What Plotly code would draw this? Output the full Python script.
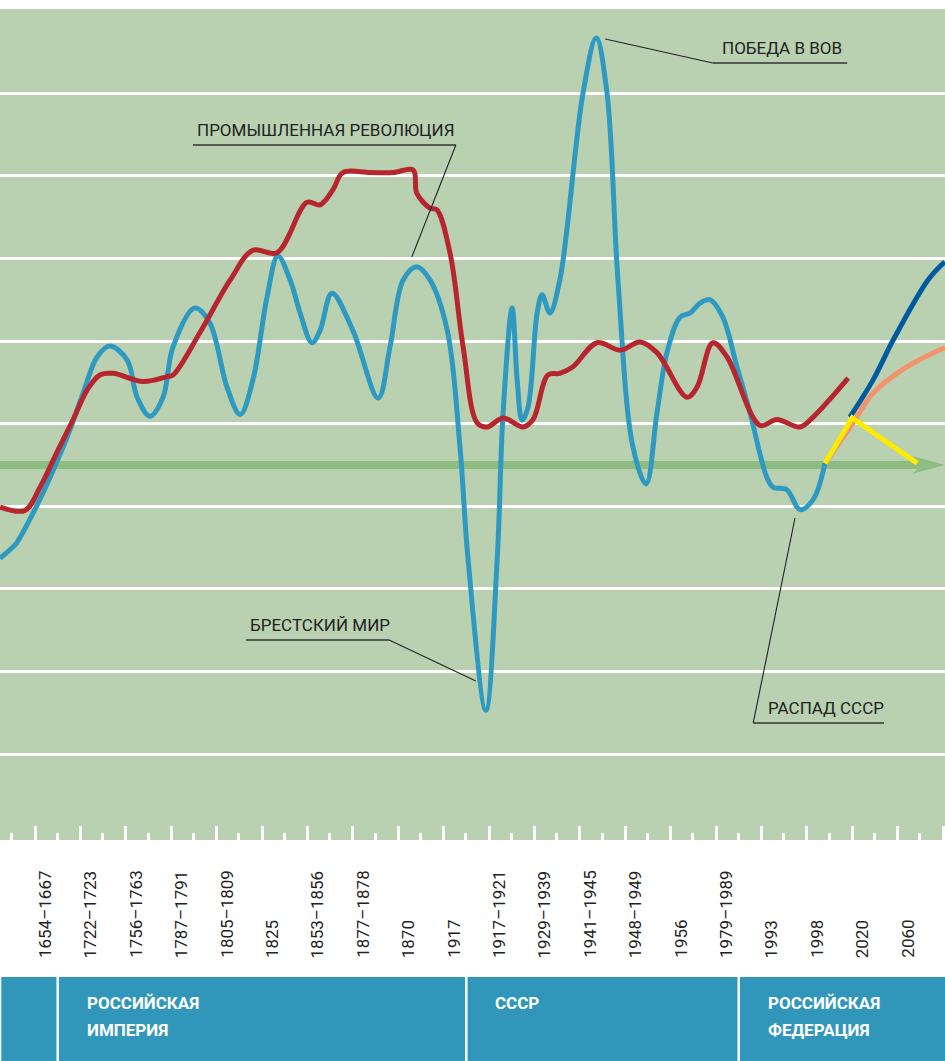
import plotly.graph_objects as go

# ---------------- data ----------------
tick_labels = ["1654–1667", "1722–1723", "1756–1763", "1787–1791", "1805–1809",
               "1825", "1853–1856", "1877–1878", "1870", "1917",
               "1917–1921", "1929–1939", "1941–1945", "1948–1949", "1956",
               "1979–1989", "1993", "1998", "2020", "2060"]
tick_pos = list(range(len(tick_labels)))

era_names = [[], ["РОССИЙСКАЯ", "ИМПЕРИЯ"], ["СССР"], ["РОССИЙСКАЯ", "ФЕДЕРАЦИЯ"]]
era_start = [-0.99, 0.28, 9.28, 15.28]

# light-blue index
blue_x = [-0.99, -0.70, -0.62, -0.26, 0.11, 0.49, 0.84, 1.15, 1.43, 1.81, 2.03, 2.31,
          2.60, 2.82, 3.30, 3.63, 4.01, 4.30, 4.58, 4.89, 5.13, 5.40, 5.62, 5.88,
          6.06, 6.32, 6.78, 7.34, 7.60, 7.89, 8.19, 8.48, 8.86, 9.14, 9.32, 9.71,
          9.96, 10.09, 10.29, 10.40, 10.51, 10.64, 10.84, 10.95, 11.12, 11.34, 11.85,
          12.14, 12.38, 12.62, 12.95, 13.24, 13.48, 13.70, 13.99, 14.21, 14.43, 14.65,
          14.93, 15.24, 15.53, 15.90, 16.04, 16.34, 16.63, 16.92, 17.18]
blue_y = [-11.3, -9.9, -9.4, -5.8, -1.5, 3.4, 8.7, 13.1, 14.4, 12.7, 8.2, 5.9,
          8.2, 14.3, 19.0, 17.2, 9.4, 6.1, 10.3, 20.3, 25.3, 22.4, 18.4, 14.8,
          16.3, 20.8, 16.3, 8.1, 14.3, 22.4, 24.0, 22.4, 16.3, 2.2, -11.5, -29.7,
          -11.5, 6.3, 19.0, 10.3, 5.4, 7.0, 18.4, 20.6, 18.4, 22.4, 45.0,
          51.7, 45.0, 22.4, 2.2, -2.3, 6.3, 13.6, 17.9, 18.4, 19.6, 20.0,
          17.9, 11.9, 6.3, -1.5, -2.7, -3.0, -5.4, -4.2, 0.2]

# red index
red_x = [-0.99, -0.44, -0.11, 0.26, 0.62, 0.93, 1.21, 1.50, 2.16, 2.69, 2.82, 3.41,
         4.08, 4.58, 5.11, 5.77, 6.06, 6.34, 6.56, 7.16, 7.67, 8.11, 8.19, 8.48,
         8.63, 8.92, 9.21, 9.52, 9.74, 10.09, 10.53, 10.75, 11.08, 11.34, 11.63,
         12.16, 12.67, 13.11, 13.48, 14.14, 14.36, 14.71, 15.02, 15.75, 16.12,
         16.63, 16.92, 17.69]
red_y = [-5.1, -5.5, -2.7, 1.5, 5.5, 9.1, 10.9, 11.1, 10.1, 10.7, 10.9, 16.0,
         22.4, 26.0, 25.7, 31.8, 31.5, 33.3, 35.4, 35.4, 35.4, 35.7, 32.9, 31.1,
         30.9, 25.7, 14.3, 5.1, 4.6, 5.7, 4.6, 5.5, 10.9, 11.1, 11.9,
         14.8, 13.9, 14.9, 13.6, 8.2, 9.4, 14.8, 13.1, 4.8, 5.5,
         4.6, 5.8, 10.5]

# forecasts
dark_x = [17.73, 18.24, 18.68, 19.45, 19.82]
dark_y = [5.8, 10.3, 15.1, 22.4, 24.6]
orange_x = [17.18, 17.80, 18.24, 18.99, 19.82]
orange_y = [0.2, 5.1, 8.7, 11.9, 14.2]
yellow_x = [17.18, 17.78, 19.21]
yellow_y = [0.2, 5.7, 0.2]

baseline = 0

# ---------------- styles ----------------
X_MIN, X_MAX = -0.991, 19.824
Y_MIN, Y_MAX = -45.4, 55.2
BG = "#b9d1b0"
FONT = "Roboto, 'Liberation Sans', sans-serif"

fig = go.Figure()

# baseline arrow shaft
fig.add_trace(go.Scatter(x=[X_MIN, 19.32], y=[baseline, baseline], mode="lines",
                         line=dict(color="#8dbd80", width=8), hoverinfo="skip"))
fig.add_shape(type="path", xref="x", yref="y", layer="below",
              path=f"M 19.824,{baseline} L 19.10,{baseline+1.1} L 19.32,{baseline} L 19.10,{baseline-1.1} Z",
              fillcolor="#8dbd80", line=dict(width=0))

fig.add_trace(go.Scatter(x=blue_x, y=blue_y, mode="lines",
                         line=dict(color="#2f9ac1", width=5, shape="spline", smoothing=1.0)))
fig.add_trace(go.Scatter(x=red_x, y=red_y, mode="lines",
                         line=dict(color="#b7252f", width=5, shape="spline", smoothing=1.0)))
fig.add_trace(go.Scatter(x=orange_x, y=orange_y, mode="lines",
                         line=dict(color="#f4926b", width=5, shape="spline", smoothing=1.0)))
fig.add_trace(go.Scatter(x=dark_x, y=dark_y, mode="lines",
                         line=dict(color="#005a9e", width=5, shape="spline", smoothing=1.0)))
fig.add_trace(go.Scatter(x=yellow_x, y=yellow_y, mode="lines",
                         line=dict(color="#ffeb00", width=5)))

# callouts: (text, text_x, text_y, underline x0, x1, y, leader end x, y)
callouts = [
    ("ПРОМЫШЛЕННАЯ РЕВОЛЮЦИЯ", 3.30, 40.6, 3.26, 9.05, 38.74, 8.08, 25.18, "right"),
    ("ПОБЕДА В ВОВ", 14.87, 50.5, 14.71, 17.67, 48.67, 12.34, 51.57, "left"),
    ("БРЕСТСКИЙ МИР", 4.47, -19.4, 4.43, 7.58, -21.19, 9.49, -26.15, "right"),
    ("РАСПАД СССР", 15.88, -29.4, 15.60, 18.48, -31.23, 16.52, -6.42, "left"),
]
for txt, tx, ty, ux0, ux1, uy, lx, ly, side in callouts:
    fig.add_annotation(x=tx, y=ty, xref="x", yref="y", text=txt, showarrow=False,
                       xanchor="left", yanchor="middle",
                       font=dict(family=FONT, size=17, color="#222222"))
    fig.add_shape(type="line", xref="x", yref="y", x0=ux0, x1=ux1, y0=uy, y1=uy,
                  line=dict(color="#333333", width=1.6))
    sx = ux1 if side == "right" else ux0
    fig.add_shape(type="line", xref="x", yref="y", x0=sx, x1=lx, y0=uy, y1=ly,
                  line=dict(color="#222222", width=1.1))

# tick labels (rotated, bottom aligned)
for p, lab in zip(tick_pos, tick_labels):
    fig.add_annotation(x=p, y=-0.1445, xref="x", yref="paper", text=lab, showarrow=False,
                       textangle=-90, xanchor="center", yanchor="bottom",
                       font=dict(family=FONT, size=17, color="#222222"))

# era band
fig.add_shape(type="rect", xref="paper", yref="paper", x0=0, x1=1, y0=-0.1649, y1=-0.27,
              fillcolor="#3097bb", line=dict(width=0))
for start, lines in zip(era_start, era_names):
    if start > X_MIN:
        fig.add_shape(type="line", xref="x", yref="paper", x0=start, x1=start,
                      y0=-0.1649, y1=-0.27, line=dict(color="white", width=2.5))
    for k, ln in enumerate(lines):
        fig.add_annotation(x=start, y=-0.1961 - 0.0325 * k, xref="x", yref="paper",
                           text=f"<b>{ln}</b>", showarrow=False, xanchor="left",
                           yanchor="middle", xshift=27,
                           font=dict(family=FONT, size=17, color="white"))

fig.update_layout(
    width=945, height=1061,
    margin=dict(l=0, r=0, t=9, b=221),
    paper_bgcolor="white", plot_bgcolor=BG,
    showlegend=False,
    xaxis=dict(range=[X_MIN, X_MAX], showgrid=False, zeroline=False, showline=False,
               tickmode="array", tickvals=[i - 0.22 for i in range(21)],
               showticklabels=False, ticks="inside", ticklen=14, tickwidth=3,
               tickcolor="white",
               minor=dict(tickmode="array", tickvals=[i + 0.27 for i in range(-1, 20)],
                          ticks="inside", ticklen=7, tickwidth=2.5, tickcolor="white",
                          showgrid=False)),
    yaxis=dict(range=[Y_MIN, Y_MAX], tickmode="array",
               tickvals=[-35, -25, -15, -5, 5, 15, 25, 35, 45],
               showticklabels=False, showgrid=True, gridcolor="white", gridwidth=3,
               zeroline=False, showline=False, ticks=""),
)

fig.write_html("out.html", config={"displayModeBar": False},
               post_script="document.body.style.margin='0';document.body.style.overflow='hidden';")
